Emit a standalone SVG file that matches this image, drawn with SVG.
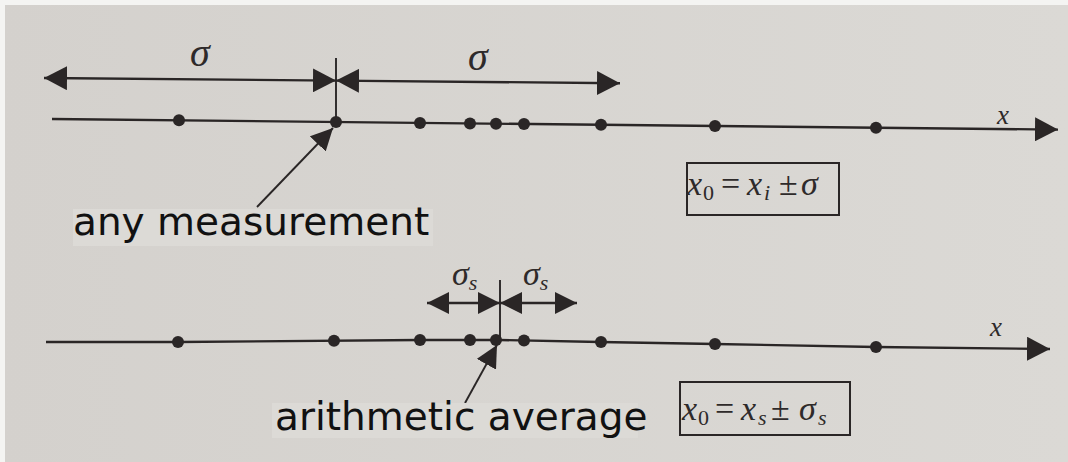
<svg xmlns="http://www.w3.org/2000/svg" width="1068" height="462" viewBox="0 0 1068 462">
  <defs>
    <linearGradient id="paper" x1="0" y1="0" x2="1" y2="0">
      <stop offset="0" stop-color="#d4d1cd"/>
      <stop offset="1" stop-color="#dbd9d5"/>
    </linearGradient>
    <marker id="headL" markerUnits="userSpaceOnUse" viewBox="0 0 23 24" refX="23" refY="12" markerWidth="23" markerHeight="24" orient="auto-start-reverse">
      <path d="M0,0 L23,12 L0,24 z" fill="#2a2626"/>
    </marker>
    <marker id="headS" markerUnits="userSpaceOnUse" viewBox="0 0 22 22" refX="22" refY="11" markerWidth="22" markerHeight="22" orient="auto-start-reverse">
      <path d="M0,0 L22,11 L0,22 z" fill="#2a2626"/>
    </marker>
    <marker id="headP" markerUnits="userSpaceOnUse" viewBox="0 0 22 22" refX="22" refY="11" markerWidth="22" markerHeight="22" orient="auto">
      <path d="M0,0 L22,11 L0,22 z" fill="#2a2626"/>
    </marker>
  </defs>
  <style>
    .ln { stroke:#2a2626; stroke-width:2.4; fill:none; }
    .thin { stroke:#2a2626; stroke-width:1.9; fill:none; }
    .dot { fill:#2a2626; }
    .lbl { font-family:"DejaVu Sans", sans-serif; font-size:39px; fill:#111; }
    .m { font-family:"Liberation Serif", serif; font-style:italic; font-size:34px; fill:#2e2a2a; }
    .mu { font-family:"Liberation Serif", serif; font-size:34px; fill:#2e2a2a; }
    .sub { font-family:"Liberation Serif", serif; font-size:22px; fill:#2e2a2a; }
    .subi { font-family:"Liberation Serif", serif; font-style:italic; font-size:22px; fill:#2e2a2a; }
    .box { fill:none; stroke:#2a2626; stroke-width:2; }
    .patch { fill:#dcdad6; }
  </style>

  <rect x="0" y="0" width="1068" height="462" fill="url(#paper)"/>
  <rect x="0" y="0" width="1068" height="5" fill="#f4f4f2"/>
  <rect x="0" y="0" width="5" height="462" fill="#f4f4f2"/>

  <g id="axis-top">
    <line class="ln" x1="52" y1="119" x2="1058" y2="129.6" marker-end="url(#headL)"/>
    <line class="thin" x1="336" y1="58" x2="336" y2="122"/>
    <circle class="dot" cx="179" cy="120.3" r="6"/>
    <circle class="dot" cx="336" cy="122" r="6"/>
    <circle class="dot" cx="420" cy="122.9" r="6"/>
    <circle class="dot" cx="470" cy="123.4" r="6"/>
    <circle class="dot" cx="496" cy="123.7" r="6"/>
    <circle class="dot" cx="524" cy="124" r="6"/>
    <circle class="dot" cx="601" cy="124.8" r="6"/>
    <circle class="dot" cx="715" cy="126" r="6"/>
    <circle class="dot" cx="876" cy="127.7" r="6"/>
    <text class="m" x="997" y="124" style="font-size:27px">x</text>
    <text class="m" x="190" y="66" style="font-size:40px">σ</text>
    <text class="m" x="468" y="70" style="font-size:40px">σ</text>
  </g>

  <g id="axis-bottom">
    <polyline class="ln" points="46,342 178,342 420,340 500,340 600,342 715,344 876,347 1050,349" marker-end="url(#headL)"/>
    <line class="thin" x1="500" y1="280" x2="500" y2="340"/>
    <circle class="dot" cx="178" cy="342" r="6"/>
    <circle class="dot" cx="334" cy="340.8" r="6"/>
    <circle class="dot" cx="420" cy="340" r="6"/>
    <circle class="dot" cx="470" cy="340" r="6"/>
    <circle class="dot" cx="496" cy="340" r="6"/>
    <circle class="dot" cx="524" cy="340.5" r="6"/>
    <circle class="dot" cx="601" cy="342" r="6"/>
    <circle class="dot" cx="715" cy="344" r="6"/>
    <circle class="dot" cx="876" cy="347" r="6"/>
    <text class="m" x="990" y="336" style="font-size:27px">x</text>
    <text class="m" x="452" y="285" style="font-size:34px">σ<tspan class="subi" dy="5">s</tspan></text>
    <text class="m" x="523" y="285" style="font-size:34px">σ<tspan class="subi" dy="5">s</tspan></text>
  </g>

  <g id="connectors">
    <line class="ln" x1="44" y1="78" x2="336" y2="80.6" marker-start="url(#headL)" marker-end="url(#headL)"/>
    <line class="ln" x1="336" y1="80.6" x2="620" y2="83.2" marker-start="url(#headL)" marker-end="url(#headL)"/>
    <line class="ln" x1="427" y1="303" x2="500" y2="303" marker-start="url(#headS)" marker-end="url(#headS)"/>
    <line class="ln" x1="500" y1="303" x2="577" y2="303" marker-start="url(#headS)" marker-end="url(#headS)"/>
    <line class="thin" x1="257" y1="207" x2="333" y2="128" marker-end="url(#headP)"/>
    <line class="thin" x1="465" y1="403" x2="497" y2="345" marker-end="url(#headP)"/>
  </g>

  <g id="label-any">
    <rect class="patch" x="73" y="209" width="360" height="37"/>
    <text class="lbl" x="73" y="235">any measurement</text>
  </g>

  <g id="label-avg">
    <rect class="patch" x="272" y="403" width="366" height="35"/>
    <text class="lbl" x="275" y="430">arithmetic average</text>
  </g>

  <g id="box-top">
    <rect class="box" x="687" y="163" width="152" height="52"/>
    <text class="m" x="687" y="195">x</text>
    <text class="sub" x="703" y="200">0</text>
    <text class="mu" x="721" y="195">=</text>
    <text class="m" x="747" y="195">x</text>
    <text class="subi" x="764" y="200">i</text>
    <text class="mu" x="779" y="195">±</text>
    <text class="m" x="801" y="195">σ</text>
  </g>

  <g id="box-bottom">
    <rect class="box" x="680" y="382" width="170" height="53"/>
    <text class="m" x="682" y="420">x</text>
    <text class="sub" x="698" y="425">0</text>
    <text class="mu" x="715" y="420">=</text>
    <text class="m" x="741" y="420">x</text>
    <text class="subi" x="758" y="425">s</text>
    <text class="mu" x="771" y="420">±</text>
    <text class="m" x="799" y="420">σ</text>
    <text class="subi" x="818" y="425">s</text>
  </g>
</svg>
